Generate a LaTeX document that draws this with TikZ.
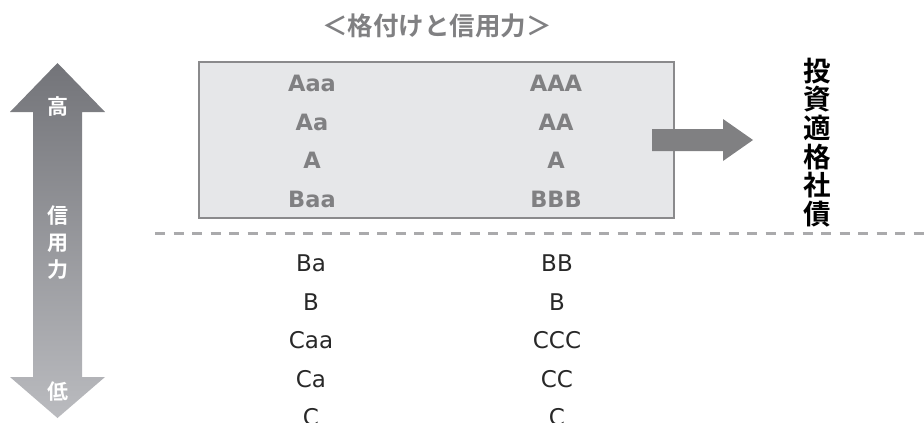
\documentclass[tikz,border=0pt]{standalone}
\usepackage{fontspec}
\setmainfont{DejaVu Sans}
\newfontfamily\cjk{Noto Sans CJK JP}[BoldFont={Noto Sans CJK JP Bold}]
\usetikzlibrary{positioning}

\definecolor{boxFill}{RGB}{230,231,233}
\definecolor{boxLine}{RGB}{138,138,140}
\definecolor{gradeGray}{RGB}{128,128,130}
\definecolor{gradeDark}{RGB}{40,40,40}
\definecolor{dashGray}{RGB}{170,170,172}
\definecolor{arrowTop}{RGB}{115,116,121}
\definecolor{arrowBot}{RGB}{186,187,191}

\tikzset{
  grade/.style={font=\fontsize{23}{23}\selectfont, text=gradeDark, inner sep=0pt},
  gradeHigh/.style={grade, font=\fontsize{22.5}{22.5}\selectfont\bfseries, text=gradeGray},
  scaleLabel/.style={font=\cjk\bfseries\fontsize{21}{27}\selectfont, text=white, align=center, inner sep=0pt}
}

\begin{document}
\begin{tikzpicture}[x=1pt,y=-1pt]
  \useasboundingbox (0,0) rectangle (924,423);
  % Title
  \node[font=\cjk\bfseries\fontsize{25.5}{25.5}\selectfont, text=gradeGray] (title) at (437,26) {＜格付けと信用力＞};
  % Credit scale arrow
  \shade[top color=arrowTop, bottom color=arrowBot]
    (57.5,63) -- (105,112) -- (82,112) -- (82,377) -- (105,377) -- (57.5,418)
    -- (10,377) -- (33,377) -- (33,112) -- (10,112) -- cycle;
  \node[scaleLabel] (high) at (57.5,107) {高};
  \node[scaleLabel] (credit) at (57.5,243) {信\\用\\力};
  \node[scaleLabel] (low) at (57.5,392) {低};
  % Investment grade box
  \node[draw=boxLine, line width=2pt, fill=boxFill, minimum width=475pt, minimum height=156pt] (gradeBox) at (436.5,140) {};
  \node[gradeHigh] (aaa) at (312,83) {Aaa};
  \node[gradeHigh] (aa) at (312,122) {Aa};
  \node[gradeHigh] (a) at (312,160) {A};
  \node[gradeHigh] (baa) at (312,199) {Baa};
  \node[gradeHigh] (AAA) at (556,83) {AAA};
  \node[gradeHigh] (AA) at (556,122) {AA};
  \node[gradeHigh] (A) at (556,160) {A};
  \node[gradeHigh] (BBB) at (556,199) {BBB};
  % Arrow out of the box
  \fill[gradeGray] (652,129) -- (723,129) -- (723,119) -- (753,140) -- (723,161) -- (723,151) -- (652,151) -- cycle;
  \node[font=\cjk\bfseries\fontsize{27.5}{28.7}\selectfont, align=center, inner sep=0pt] (invest) at (817,142.5) {投\\資\\適\\格\\社\\債};
  % Border line
  \coordinate (lineL) at (155,233);
  \coordinate (lineR) at (924,233);
  \draw[dashGray, line width=3pt, dash pattern=on 10pt off 8.5pt] (lineL) -- (lineR);
  % Speculative grades
  \node[grade] (ba) at (311,263) {Ba};
  \node[grade] (b) at (311,302) {B};
  \node[grade] (caa) at (311,340) {Caa};
  \node[grade] (ca) at (311,379) {Ca};
  \node[grade] (c) at (311,417.5) {C};
  \node[grade] (BB) at (557,263) {BB};
  \node[grade] (B) at (557,302) {B};
  \node[grade] (CCC) at (557,340) {CCC};
  \node[grade] (CC) at (557,379) {CC};
  \node[grade] (C) at (557,417.5) {C};
\end{tikzpicture}
\end{document}
